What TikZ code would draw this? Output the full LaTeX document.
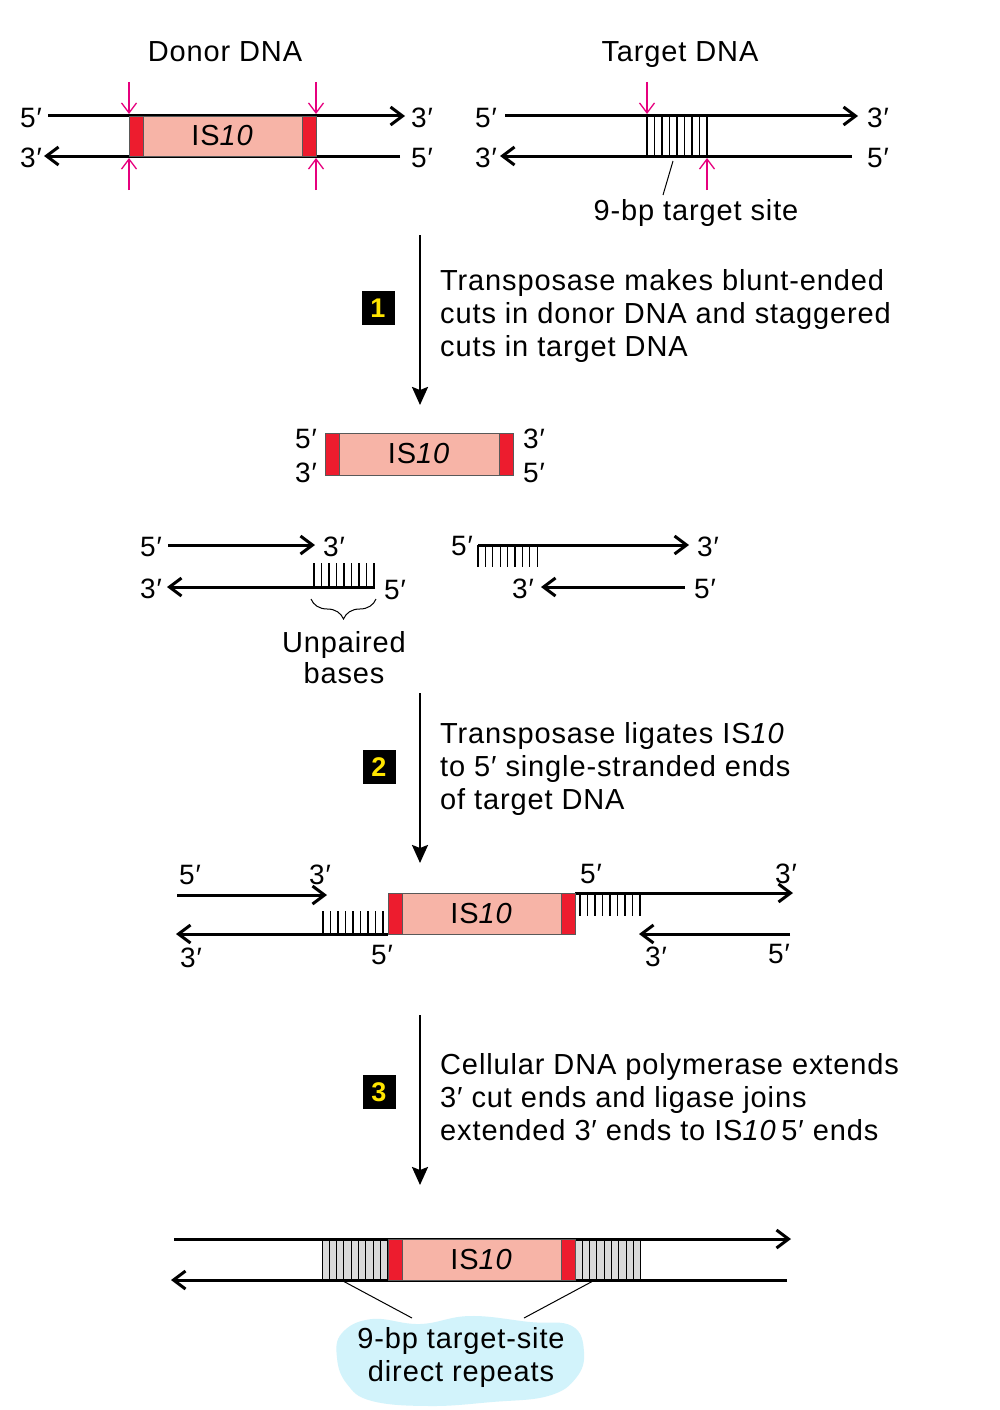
\documentclass[tikz,border=0pt]{standalone}
\usepackage{fontspec}
\setmainfont{Liberation Sans}[LetterSpace=3]
\usetikzlibrary{arrows.meta,decorations.pathreplacing}
\definecolor{ispink}{HTML}{F7B4A7}
\definecolor{isred}{HTML}{ED1C2E}
\definecolor{cutmag}{HTML}{E6007E}
\definecolor{cloudc}{HTML}{D2F3FB}
\definecolor{hatchgray}{HTML}{DADADA}
\definecolor{numyellow}{HTML}{FFE500}
\newcommand\ISunit[5]{%
  \draw[isframe, fill=ispink] (#1,#2) rectangle (#3,#4);
  \draw[isframe, fill=isred] (#1,#2) rectangle ({#1+14},#4);
  \draw[isframe, fill=isred] ({#3-14},#2) rectangle (#3,#4);
  \node[isl] (#5) at ({(#1+#3)/2},{(#2+#4)/2}) {IS\textit{10}};}
\begin{document}
\begin{tikzpicture}[x=1pt,y=-1pt,
  strand/.style={line width=3pt},
  fwd/.style={strand,-{Straight Barb[length=12pt,width=18pt]}},
  cutarrow/.style={line width=1.3pt,cutmag,-{Straight Barb[length=10pt,width=15pt]}},
  steparrow/.style={line width=2.5pt,-{Stealth[length=18pt,width=16pt,inset=3pt]}},
  hatch/.style={line width=1.2pt},
  leader/.style={line width=1pt},
  isframe/.style={draw=black!65,line width=0.8pt},
  isl/.style={font=\fontsize{29}{30}\selectfont,inner sep=0pt},
  lab/.style={font=\fontsize{28}{30}\selectfont,inner sep=0pt},
  title/.style={font=\fontsize{29}{33}\selectfont,inner sep=0pt,anchor=base},
  steptext/.style={anchor=west,align=left,font=\fontsize{29}{33}\selectfont,inner sep=0pt},
  stepnum/.style={fill=black,text=numyellow,font=\bfseries\fontsize{27}{27}\selectfont,minimum width=33pt,minimum height=34pt,inner sep=0pt}]
\fill[white] (0,0) rectangle (1000,1410);
\useasboundingbox (0,0) rectangle (1000,1410);

% ---------- titles
\node[title] (tdonor) at (225,62) {Donor DNA};
\node[title] (ttarget) at (680,62) {Target DNA};

% ---------- donor DNA
\coordinate (dT1) at (48,116); \coordinate (dT2) at (405,116);
\coordinate (dB1) at (400,156); \coordinate (dB2) at (44,156);
\draw[fwd] (dT1) -- (dT2);
\draw[fwd] (dB1) -- (dB2);
\ISunit{129}{116}{316}{156}{isdonor}
\node[lab] (d5a) at (31,118) {5′};
\node[lab] (d3a) at (422,118) {3′};
\node[lab] (d3b) at (31,158) {3′};
\node[lab] (d5b) at (422,158) {5′};
\coordinate (mc1) at (129,82); \coordinate (mc1e) at (129,114);
\coordinate (mc2) at (129,190); \coordinate (mc2e) at (129,158);
\coordinate (mc3) at (316,82); \coordinate (mc3e) at (316,114);
\coordinate (mc4) at (316,190); \coordinate (mc4e) at (316,158);
\draw[cutarrow] (mc1) -- (mc1e);
\draw[cutarrow] (mc2) -- (mc2e);
\draw[cutarrow] (mc3) -- (mc3e);
\draw[cutarrow] (mc4) -- (mc4e);

% ---------- target DNA
\foreach \i in {0,...,8} \draw[hatch] ({647+\i*7.5},116) -- ({647+\i*7.5},156);
\coordinate (tT1) at (505,116); \coordinate (tT2) at (858,116);
\coordinate (tB1) at (852,156); \coordinate (tB2) at (500,156);
\draw[fwd] (tT1) -- (tT2);
\draw[fwd] (tB1) -- (tB2);
\node[lab] (t5a) at (486,118) {5′};
\node[lab] (t3a) at (878,118) {3′};
\node[lab] (t3b) at (486,158) {3′};
\node[lab] (t5b) at (878,158) {5′};
\coordinate (mt1) at (647,82); \coordinate (mt1e) at (647,114);
\coordinate (mt2) at (707,190); \coordinate (mt2e) at (707,158);
\draw[cutarrow] (mt1) -- (mt1e);
\draw[cutarrow] (mt2) -- (mt2e);
\node[title] (tsite) at (696,220) {9-bp target site};
\coordinate (tsl) at (673,161); \coordinate (tsl2) at (663,195);
\draw[leader] (tsl) -- (tsl2);

% ---------- step 1
\coordinate (s1a) at (420,235); \coordinate (s1b) at (420,405);
\draw[steparrow] (s1a) -- (s1b);
\node[stepnum] (n1) at (378,308) {1};
\node[steptext] (st1) at (440,316) {Transposase makes blunt-ended\\cuts in donor DNA and staggered\\cuts in target DNA};

% ---------- excised IS10
\ISunit{325}{433}{513}{475}{isfree}
\node[lab] (f5a) at (306,439) {5′};
\node[lab] (f3a) at (306,473) {3′};
\node[lab] (f3b) at (534,439) {3′};
\node[lab] (f5b) at (534,473) {5′};

% ---------- cut target, left half
\foreach \i in {0,...,8} \draw[hatch] ({314+\i*7.5},563) -- ({314+\i*7.5},587);
\coordinate (lT1) at (168,545); \coordinate (lT2) at (315,545);
\coordinate (lB1) at (375,587); \coordinate (lB2) at (167,587);
\draw[fwd] (lT1) -- (lT2);
\draw[fwd] (lB1) -- (lB2);
\node[lab] (l5a) at (151,547) {5′};
\node[lab] (l3a) at (334,547) {3′};
\node[lab] (l3b) at (151,589) {3′};
\node[lab] (l5b) at (395,590) {5′};
\coordinate (br1) at (376,599); \coordinate (br2) at (311,599);
\draw[line width=1pt,decorate,decoration={brace,amplitude=20pt}] (br1) -- (br2);
\node[lab,align=center,font=\fontsize{29}{31}\selectfont] (unp) at (344,658) {Unpaired\\bases};

% ---------- cut target, right half
\foreach \i in {0,...,8} \draw[hatch] ({478+\i*7.4},545) -- ({478+\i*7.4},567);
\coordinate (rT1) at (478,545); \coordinate (rT2) at (689,545);
\coordinate (rB1) at (685,587); \coordinate (rB2) at (541,587);
\draw[fwd] (rT1) -- (rT2);
\draw[fwd] (rB1) -- (rB2);
\node[lab] (r5a) at (462,546) {5′};
\node[lab] (r3a) at (708,547) {3′};
\node[lab] (r3b) at (523,589) {3′};
\node[lab] (r5b) at (705,589) {5′};

% ---------- step 2
\coordinate (s2a) at (420,693); \coordinate (s2b) at (420,863);
\draw[steparrow] (s2a) -- (s2b);
\node[stepnum] (n2) at (379,767) {2};
\node[steptext] (st2) at (440,769) {Transposase ligates IS\textit{10}\\to 5′ single-stranded ends\\of target DNA};

% ---------- after ligation
\foreach \i in {0,...,8} \draw[hatch] ({323+\i*7.5},911) -- ({323+\i*7.5},934);
\foreach \i in {0,...,8} \draw[hatch] ({580+\i*7.5},893) -- ({580+\i*7.5},916);
\coordinate (aT1) at (177,895); \coordinate (aT2) at (327,895);
\coordinate (aB1) at (388,934); \coordinate (aB2) at (176,934);
\coordinate (bT1) at (575,893); \coordinate (bT2) at (793,893);
\coordinate (bB1) at (790,934); \coordinate (bB2) at (639,934);
\draw[fwd] (aT1) -- (aT2);
\draw[fwd] (aB1) -- (aB2);
\draw[fwd] (bT1) -- (bT2);
\draw[fwd] (bB1) -- (bB2);
\ISunit{388}{893}{575}{934}{islig}
\node[lab] (a5a) at (190,875) {5′};
\node[lab] (a3a) at (320,875) {3′};
\node[lab] (a3b) at (191,958) {3′};
\node[lab] (a5b) at (382,955) {5′};
\node[lab] (b5a) at (591,874) {5′};
\node[lab] (b3a) at (786,874) {3′};
\node[lab] (b3b) at (656,957) {3′};
\node[lab] (b5b) at (779,954) {5′};

% ---------- step 3
\coordinate (s3a) at (420,1015); \coordinate (s3b) at (420,1185);
\draw[steparrow] (s3a) -- (s3b);
\node[stepnum] (n3) at (379,1092) {3};
\node[steptext] (st3) at (440,1097) {Cellular DNA polymerase extends\\3′ cut ends and ligase joins\\extended 3′ ends to IS\textit{10}\,5′ ends};

% ---------- final product
\fill[hatchgray] (322,1239) rectangle (388,1280);
\fill[hatchgray] (575,1239) rectangle (641,1280);
\foreach \i in {0,...,9} {
  \draw[line width=1pt] ({322+\i*7.33},1239) -- ({322+\i*7.33},1280);
  \draw[line width=1pt] ({575+\i*7.33},1239) -- ({575+\i*7.33},1280);}
\coordinate (fT1) at (174,1239); \coordinate (fT2) at (791,1239);
\coordinate (fB1) at (787,1280); \coordinate (fB2) at (171,1280);
\draw[fwd] (fT1) -- (fT2);
\draw[fwd] (fB1) -- (fB2);
\ISunit{388}{1239}{575}{1280}{isfinal}

% cloud
\fill[cloudc] plot[smooth cycle,tension=0.7] coordinates {
  (342,1333) (372,1319) (420,1324) (470,1316) (530,1322) (572,1326)
  (584,1352) (576,1378) (548,1396) (492,1402) (430,1406) (372,1401)
  (347,1384) (337,1358)};
\node[lab,align=center,font=\fontsize{29}{33}\selectfont] (rep) at (461,1357) {9-bp target-site\\direct repeats};
\coordinate (rl1) at (343,1281); \coordinate (rl2) at (412,1318);
\coordinate (rr1) at (593,1281); \coordinate (rr2) at (524,1318);
\draw[leader] (rl1) -- (rl2);
\draw[leader] (rr1) -- (rr2);
\end{tikzpicture}
\end{document}
